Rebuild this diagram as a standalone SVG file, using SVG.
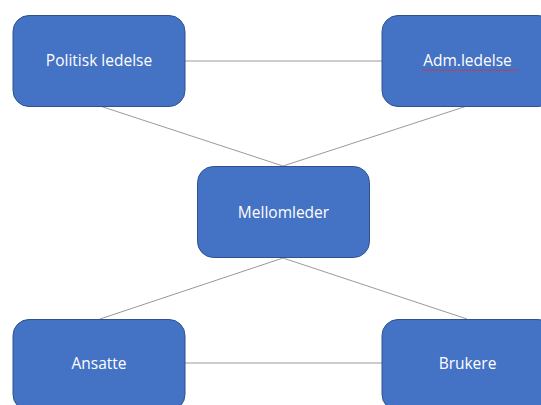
<svg xmlns="http://www.w3.org/2000/svg" width="541" height="405" viewBox="0 0 541 405">
<style>
.box{fill:#4472C4;stroke:#2F528F;stroke-width:1}
.lbl{fill:#ffffff;font-family:"Open Sans","Liberation Sans",sans-serif;font-size:15.5px;text-anchor:middle}
.con{stroke:#9A9A9A;stroke-width:1;fill:none}
</style>
<rect width="541" height="405" fill="#ffffff"/>
<g id="connectors">
<line class="con" x1="185" y1="61" x2="382" y2="61"/>
<line class="con" x1="100" y1="106" x2="283" y2="166"/>
<line class="con" x1="467" y1="106" x2="283" y2="166"/>
<line class="con" x1="283" y1="258" x2="100" y2="319"/>
<line class="con" x1="283" y1="258" x2="467" y2="319"/>
<line class="con" x1="185" y1="363" x2="382" y2="363"/>
</g>
<g id="politisk">
<rect class="box" x="13" y="15.5" width="172" height="91" rx="16"/>
<text class="lbl" x="99" y="66">Politisk ledelse</text>
</g>
<g id="adm">
<rect class="box" x="382" y="15.5" width="172" height="91" rx="16"/>
<text class="lbl" x="467.5" y="66">Adm.ledelse</text>
<path d="M422 71 l1.5 -1.5 l1.5 1.5 l1.5 -1.5 l1.5 1.5 l1.5 -1.5 l1.5 1.5 l1.5 -1.5 l1.5 1.5 l1.5 -1.5 l1.5 1.5 l1.5 -1.5 l1.5 1.5 l1.5 -1.5 l1.5 1.5 l1.5 -1.5 l1.5 1.5 l1.5 -1.5 l1.5 1.5 l1.5 -1.5 l1.5 1.5 l1.5 -1.5 l1.5 1.5 l1.5 -1.5 l1.5 1.5 l1.5 -1.5 l1.5 1.5 l1.5 -1.5 l1.5 1.5 l1.5 -1.5 l1.5 1.5 l1.5 -1.5 l1.5 1.5 l1.5 -1.5 l1.5 1.5 l1.5 -1.5 l1.5 1.5 l1.5 -1.5 l1.5 1.5 l1.5 -1.5 l1.5 1.5 l1.5 -1.5 l1.5 1.5 l1.5 -1.5 l1.5 1.5 l1.5 -1.5 l1.5 1.5 l1.5 -1.5 l1.5 1.5 l1.5 -1.5 l1.5 1.5 l1.5 -1.5 l1.5 1.5 l1.5 -1.5 l1.5 1.5 l1.5 -1.5 l1.5 1.5 l1.5 -1.5 l1.5 1.5 l1.5 -1.5 l1.5 1.5 l1.5 -1.5 l1.5 1.5 l1.5 -1.5 l1.5 1.5" fill="none" stroke="#E03030" stroke-width="0.8"/>
</g>
<g id="mellomleder">
<rect class="box" x="197.5" y="166.5" width="172" height="91" rx="16"/>
<text class="lbl" x="283.5" y="218">Mellomleder</text>
</g>
<g id="ansatte">
<rect class="box" x="13" y="319.5" width="172" height="91" rx="16"/>
<text class="lbl" x="99" y="369">Ansatte</text>
</g>
<g id="brukere">
<rect class="box" x="382" y="319.5" width="172" height="91" rx="16"/>
<text class="lbl" x="467.5" y="369">Brukere</text>
</g>
</svg>
